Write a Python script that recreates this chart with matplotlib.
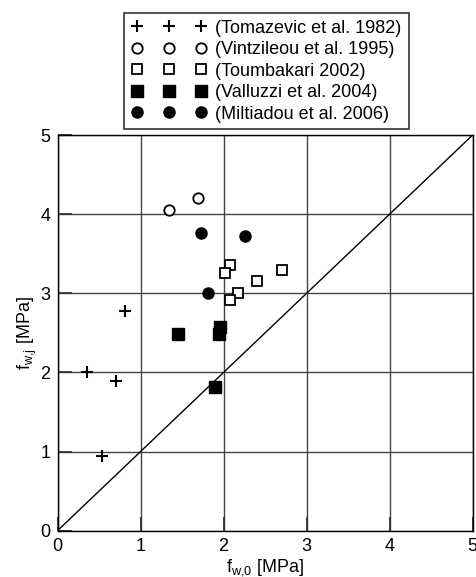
import matplotlib
matplotlib.use("Agg")
import matplotlib.pyplot as plt
import numpy as np

plt.rcParams['font.family'] = ['Liberation Sans', 'DejaVu Sans']
plt.rcParams['mathtext.fontset'] = 'custom'
plt.rcParams['mathtext.rm'] = 'Liberation Sans'
plt.rcParams['mathtext.it'] = 'Liberation Sans'

# Data
tomazevic_x = [0.81, 0.36, 0.70, 0.53]
tomazevic_y = [2.77, 2.01, 1.89, 0.94]
vintzileou_x = [1.34, 1.69]
vintzileou_y = [4.05, 4.20]
toumbakari_x = [2.08, 2.02, 2.70, 2.40, 2.17, 2.08]
toumbakari_y = [3.36, 3.25, 3.30, 3.15, 3.00, 2.91]
valluzzi_x = [1.45, 1.96, 1.94, 1.90]
valluzzi_y = [2.49, 2.58, 2.49, 1.82]
miltiadou_x = [1.73, 2.26, 1.81]
miltiadou_y = [3.76, 3.73, 3.00]
labels = ["(Tomazevic et al. 1982)", "(Vintzileou et al. 1995)", "(Toumbakari 2002)",
          "(Valluzzi et al. 2004)", "(Miltiadou et al. 2006)"]
ticks = [0, 1, 2, 3, 4, 5]

fs = 13
fig = plt.figure(figsize=(4.76, 5.77), dpi=100)
ax = fig.add_axes([57.5/476, 1-530.7/577, (472.7-57.5)/476, (530.7-135)/577])

ax.plot(ticks, ticks, color='black', lw=1, zorder=2)
h1, = ax.plot(tomazevic_x, tomazevic_y, ls='none', marker='+', ms=9, mew=1.5, color='black', label=labels[0])
h2, = ax.plot(vintzileou_x, vintzileou_y, ls='none', marker='o', ms=7.5, mew=1.3, mfc='white', mec='black', label=labels[1])
h3, = ax.plot(toumbakari_x, toumbakari_y, ls='none', marker='s', ms=7.5, mew=1.3, mfc='white', mec='black', label=labels[2])
h4, = ax.plot(valluzzi_x, valluzzi_y, ls='none', marker='s', ms=8, mew=1, mfc='black', mec='black', label=labels[3])
h5, = ax.plot(miltiadou_x, miltiadou_y, ls='none', marker='o', ms=8, mew=1, mfc='black', mec='black', label=labels[4])
for h in (h1, h2, h3, h4, h5):
    h.set_clip_on(False)
    h.set_zorder(3)

ax.set_xlim(0, 5)
ax.set_ylim(0, 5)
ax.set_xticks(ticks)
ax.set_yticks(ticks)
ax.grid(True, color='#444444', lw=1)
ax.set_axisbelow(True)
ax.tick_params(direction='in', length=10, width=1.3, labelsize=fs, color='#333333', pad=5)
for s in ax.spines.values():
    s.set_linewidth(1)
ax.set_xlabel(r'f$_{\mathregular{w{,}0}}$ [MPa]', fontsize=fs, labelpad=2)
ax.set_ylabel(r'f$_{\mathregular{w{,}j}}$ [MPa]', fontsize=fs, labelpad=1)

leg = fig.legend(handles=[h1, h2, h3, h4, h5], loc='upper left',
                 bbox_to_anchor=(124.3/476, 1-12.7/577), borderaxespad=0,
                 numpoints=3, handlelength=4.17, handletextpad=0.5, borderpad=0.38,
                 labelspacing=0.25, fontsize=fs, fancybox=False, framealpha=1,
                 edgecolor='#333333')
leg.get_frame().set_linewidth(1.2)

fig.savefig('out.png', dpi=100)
